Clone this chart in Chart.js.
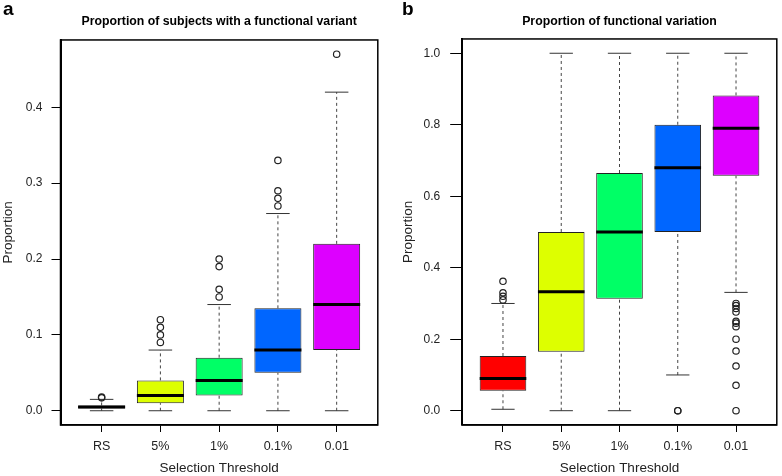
<!DOCTYPE html>
<html><head><meta charset="utf-8">
<script src="https://cdn.jsdelivr.net/npm/chart.js@4.4.1/dist/chart.umd.min.js"></script>
<style>
html,body{margin:0;padding:0;background:#fff;}
#wrap{position:relative;width:782px;height:476px;overflow:hidden;background:#fff;}
.panel{position:absolute;top:0;width:391px;height:476px;}
.lab{position:absolute;font:bold 19px "Liberation Sans",Arial,sans-serif;line-height:19px;color:#000;}
</style></head><body>
<div id="wrap">
 <div class="panel" style="left:0"><canvas id="ca" width="391" height="476"></canvas></div>
 <div class="panel" style="left:391px"><canvas id="cb" width="391" height="476"></canvas></div>
 <div class="lab" style="left:3px;top:-1px">a</div>
 <div class="lab" style="left:402px;top:-1px">b</div>
</div>
<script>
// ---------- data ----------
const categories = ['RS', '5%', '1%', '0.1%', '0.01'];
const boxColors = ['#FF0000', '#DDFF00', '#00FF66', '#0066FF', '#DD00FF'];

const titleA = 'Proportion of subjects with a functional variant';
const yTicksA = [0, 0.1, 0.2, 0.3, 0.4];
const aWhiskerLow  = [0,     0,    0,    0,     0];
const aQ1          = [0.003, 0.01, 0.02, 0.05,  0.08];
const aMedian      = [0.005, 0.02, 0.04, 0.08,  0.14];
const aQ3          = [0.007, 0.04, 0.07, 0.135, 0.22];
const aWhiskerHigh = [0.015, 0.08, 0.14, 0.26,  0.42];
const aOutliers = [
  [0.017, 0.018],
  [0.09, 0.10, 0.11, 0.12],
  [0.15, 0.16, 0.19, 0.20],
  [0.27, 0.28, 0.29, 0.33],
  [0.47]
];

const titleB = 'Proportion of functional variation';
const yTicksB = [0, 0.2, 0.4, 0.6, 0.8, 1.0];
const bWhiskerLow  = [0.004, 0,     0,     0.10, 0.331];
const bQ1          = [0.056, 0.165, 0.313, 0.50, 0.657];
const bMedian      = [0.090, 0.333, 0.500, 0.68, 0.790];
const bQ3          = [0.153, 0.500, 0.665, 0.80, 0.882];
const bWhiskerHigh = [0.300, 1.0,   1.0,   1.0,  1.0];
const bOutliers = [
  [0.31, 0.32, 0.33, 0.362],
  [],
  [],
  [0, 0],
  [0.30, 0.294, 0.286, 0.276, 0.25, 0.245, 0.235, 0.20, 0.167, 0.125, 0.071, 0]
];

const xAxisTitle = 'Selection Threshold';
const yAxisTitle = 'Proportion';

// ---------- drawing ----------
const FONT = '"Liberation Sans", Arial, Helvetica, sans-serif';
const BOX_HALF = 0.4, CAP_HALF = 0.2;

const framePlugin = {
  id: 'frame',
  afterDraw(chart) {
    const {ctx, chartArea: a} = chart;
    ctx.save();
    ctx.strokeStyle = '#000';
    ctx.lineWidth = 1.5;
    ctx.strokeRect(a.left, a.top, a.right - a.left, a.bottom - a.top);
    ctx.restore();
  }
};

function makePanel(id, p) {
  const boxes = [], whisk = [], caps = [], meds = [], pts = [];
  categories.forEach((c, i) => {
    const x = i + 1;
    boxes.push({x, y: [p.q1[i], p.q3[i]]});
    whisk.push({x, y: p.lo[i]}, {x, y: p.q1[i]}, {x, y: null},
               {x, y: p.q3[i]}, {x, y: p.hi[i]}, {x, y: null});
    caps.push({x: x - CAP_HALF, y: p.lo[i]}, {x: x + CAP_HALF, y: p.lo[i]}, {x, y: null},
              {x: x - CAP_HALF, y: p.hi[i]}, {x: x + CAP_HALF, y: p.hi[i]}, {x, y: null});
    meds.push({x: x - BOX_HALF, y: p.med[i]}, {x: x + BOX_HALF, y: p.med[i]}, {x, y: null});
    p.out[i].forEach(v => pts.push({x, y: v}));
  });
  const all = [].concat(p.lo, p.hi, ...p.out);
  const dmin = Math.min(...all), dmax = Math.max(...all);
  const ext = (dmax - dmin) * 0.04;

  new Chart(document.getElementById(id), {
    type: 'bar',
    data: {
      datasets: [
        {type: 'bar', data: boxes, backgroundColor: boxColors, borderColor: '#222',
         borderWidth: 1, borderSkipped: false, categoryPercentage: 1, barPercentage: 0.8, order: 5},
        {type: 'line', data: whisk, borderColor: '#444', borderWidth: 1, borderDash: [3, 3],
         pointRadius: 0, spanGaps: false, fill: false, order: 4},
        {type: 'line', data: caps, borderColor: '#333', borderWidth: 1,
         pointRadius: 0, spanGaps: false, fill: false, order: 3},
        {type: 'line', data: meds, borderColor: '#000', borderWidth: 3, borderCapStyle: 'butt',
         pointRadius: 0, spanGaps: false, fill: false, order: 1},
        {type: 'line', data: pts, showLine: false, pointRadius: 3.2, pointBorderWidth: 1.2,
         pointBorderColor: '#222', pointBackgroundColor: 'rgba(0,0,0,0)', order: 0}
      ]
    },
    options: {
      responsive: false,
      animation: false,
      events: [],
      layout: {padding: {left: 0, right: p.padRight, top: 0, bottom: 0}},
      plugins: {
        legend: {display: false},
        tooltip: {enabled: false},
        title: {display: true, text: p.title, fullSize: false, color: '#000',
                font: {family: FONT, size: 12.3, weight: 'bold'},
                padding: {top: 14.6, bottom: p.titleBottom}}
      },
      scales: {
        x: {
          type: 'linear', min: 0.3, max: 5.7, offset: false,
          afterFit: s => { s.height = 51; },
          afterBuildTicks: s => { s.ticks = categories.map((c, i) => ({value: i + 1})); },
          ticks: {callback: v => categories[Math.round(v) - 1], color: '#222', padding: 7,
                  maxRotation: 0, autoSkip: false, font: {family: FONT, size: 12.5}},
          grid: {display: true, drawOnChartArea: false, drawTicks: true, tickLength: 7,
                 tickColor: '#000', offset: false},
          border: {display: true, color: '#000', width: 1.5},
          title: {display: true, text: xAxisTitle, color: '#222',
                  font: {family: FONT, size: 13.5}, padding: {top: 0, bottom: 0}}
        },
        y: {
          type: 'linear', min: dmin - ext, max: dmax + ext,
          afterFit: s => { s.width = p.yWidth; },
          afterBuildTicks: s => { s.ticks = p.yTicks.map(v => ({value: v})); },
          ticks: {callback: v => v.toFixed(1), color: '#222', padding: p.yPad,
                  font: {family: FONT, size: 12}},
          grid: {display: true, drawOnChartArea: false, drawTicks: true, tickLength: p.yTick,
                 tickColor: '#000'},
          border: {display: true, color: '#000', width: 2},
          title: {display: true, text: yAxisTitle, color: '#222',
                  font: {family: FONT, size: 13.5}, padding: {top: p.yTitlePad, bottom: 0}}
        }
      }
    },
    plugins: [framePlugin]
  });
}

makePanel('ca', {title: titleA, yTicks: yTicksA, lo: aWhiskerLow, q1: aQ1, med: aMedian,
  q3: aQ3, hi: aWhiskerHigh, out: aOutliers,
  padRight: 13.2, titleBottom: 10.6, yWidth: 60.5, yPad: 9, yTick: 9, yTitlePad: 0});
makePanel('cb', {title: titleB, yTicks: yTicksB, lo: bWhiskerLow, q1: bQ1, med: bMedian,
  q3: bQ3, hi: bWhiskerHigh, out: bOutliers,
  padRight: 2.6, titleBottom: 9.6, yWidth: 71.2, yPad: 10, yTick: 12, yTitlePad: 9});
</script>
</body></html>
